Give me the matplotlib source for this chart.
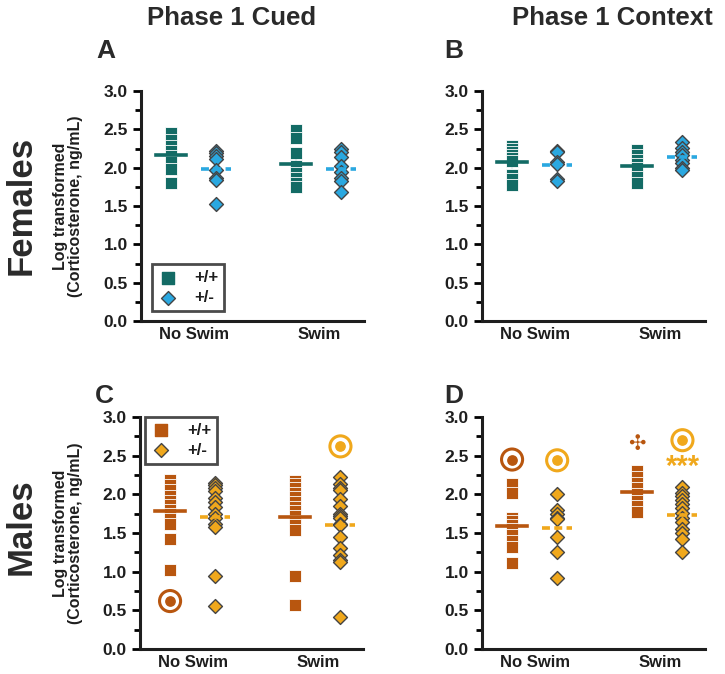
import numpy as np
import matplotlib.pyplot as plt
from matplotlib.ticker import MultipleLocator

plt.rcParams['font.family'] = ['Liberation Sans', 'DejaVu Sans']
plt.rcParams['font.weight'] = 'bold'

groups = ['No Swim', 'Swim']
genotypes = ['+/+', '+/-']

# Females, phase 1 cued (A)
fa_ns_wt = [2.45, 2.36, 2.28, 2.22, 2.15, 2.07, 1.98, 1.80]
fa_ns_het = [2.22, 2.19, 2.15, 2.11, 1.97, 1.87, 1.84, 1.52]
fa_sw_wt = [2.49, 2.39, 2.19, 2.02, 1.93, 1.86, 1.80, 1.75]
fa_sw_het = [2.24, 2.21, 2.14, 2.02, 1.94, 1.86, 1.82, 1.68]

# Females, phase 1 context (B)
fb_ns_wt = [2.28, 2.25, 2.21, 2.17, 2.13, 2.09, 1.90, 1.85, 1.78]
fb_ns_het = [2.22, 2.20, 2.07, 2.05, 1.85, 1.83]
fb_sw_wt = [2.23, 2.17, 2.10, 2.05, 2.00, 1.95, 1.88, 1.80]
fb_sw_het = [2.33, 2.26, 2.20, 2.17, 2.10, 2.06, 2.00, 1.97]

# Males, phase 1 cued (C)
mc_ns_wt = [2.18, 2.12, 2.05, 1.98, 1.92, 1.86, 1.80, 1.74, 1.68, 1.62, 1.42, 1.02]
mc_ns_het = [2.15, 2.12, 2.08, 2.04, 1.95, 1.90, 1.84, 1.75, 1.70, 1.62, 1.58, 0.95, 0.56]
mc_sw_wt = [2.17, 2.13, 2.08, 2.02, 1.96, 1.90, 1.84, 1.78, 1.72, 1.66, 1.60, 1.54, 0.95, 0.57]
mc_sw_het = [2.23, 2.14, 2.08, 2.05, 1.94, 1.85, 1.75, 1.72, 1.70, 1.62, 1.60, 1.45,
             1.30, 1.22, 1.15, 1.12, 0.42]

# Males, phase 1 context (D)
md_ns_wt = [2.13, 2.02, 1.70, 1.65, 1.60, 1.55, 1.48, 1.40, 1.32, 1.11]
md_ns_het = [2.00, 1.80, 1.75, 1.70, 1.68, 1.45, 1.25, 0.92]
md_sw_wt = [2.30, 2.22, 2.15, 2.08, 2.00, 1.92, 1.85, 1.77]
md_sw_het = [2.09, 2.02, 1.98, 1.93, 1.88, 1.82, 1.76, 1.70, 1.64, 1.55, 1.50, 1.42, 1.25]

# outliers (double circle), panel -> list of (group, genotype, value)
outliers = {
    'C': [(0, 0, 0.62), (1, 1, 2.62)],
    'D': [(0, 0, 2.45), (0, 1, 2.44), (1, 1, 2.70)],
}

teal = '#136b65'
blue = '#2aa8e0'
rust = '#b8560f'
gold = '#f0a81c'
ink = '#1e1e1e'

W, H = 725, 674
fig = plt.figure(figsize=(W / 100, H / 100), dpi=100)


def box(l, t, r, b):
    return [l / W, 1 - b / H, (r - l) / W, (b - t) / H]


axA = fig.add_axes(box(141, 91, 364, 321))
axB = fig.add_axes(box(482, 91, 705, 321))
axC = fig.add_axes(box(140, 417, 363, 649))
axD = fig.add_axes(box(482, 417, 705, 649))

off = 0.18


def draw(ax, data, cols, key=None):
    for g in range(2):
        for k in range(2):
            vals = np.array(data[g][k])
            x = g + (-off if k == 0 else off)
            if k == 0:
                ax.scatter(np.full(len(vals), x), vals, marker='s', s=72, color=cols[0],
                           edgecolor='white', linewidth=0.6, zorder=3)
            else:
                ax.scatter(np.full(len(vals), x), vals, marker='D', s=50, color=cols[1],
                           edgecolor='#444444', linewidth=1.0, zorder=3)
            m = vals.mean()
            sem = vals.std(ddof=1) / np.sqrt(len(vals))
            ls = '-' if k == 0 else (0, (2.2, 1.2))
            ax.plot([x - 0.12, x + 0.12], [m, m], color=cols[k], lw=2.6, ls=ls, zorder=4)
            ax.plot([x, x], [m - sem, m + sem], color=cols[k], lw=1.6, zorder=2)
    if key in outliers:
        for g, k, v in outliers[key]:
            x = g + (-off if k == 0 else off)
            ax.scatter([x], [v], s=230, facecolor='none', edgecolor=cols[k], linewidth=2.2, zorder=3)
            ax.scatter([x], [v], s=45, color=cols[k], zorder=3)

    ax.set_xlim(-0.42, 1.36)
    ax.set_ylim(0, 3.0)
    ax.yaxis.set_major_locator(MultipleLocator(0.5))
    ax.yaxis.set_minor_locator(MultipleLocator(0.25))
    ax.set_xticks([0, 1])
    ax.set_xticklabels(groups, fontsize=12, fontweight='bold', color=ink)
    ax.tick_params(axis='x', length=0, pad=4)
    ax.tick_params(axis='y', which='major', length=6, width=2, labelsize=12.5, labelcolor=ink)
    ax.tick_params(axis='y', which='minor', length=4, width=2)
    for t in ax.get_yticklabels():
        t.set_fontweight('bold')
    for s in ['top', 'right']:
        ax.spines[s].set_visible(False)
    for s in ['left', 'bottom']:
        ax.spines[s].set_linewidth(2.2)
        ax.spines[s].set_color(ink)


draw(axA, [[fa_ns_wt, fa_ns_het], [fa_sw_wt, fa_sw_het]], [teal, blue])
draw(axB, [[fb_ns_wt, fb_ns_het], [fb_sw_wt, fb_sw_het]], [teal, blue])
draw(axC, [[mc_ns_wt, mc_ns_het], [mc_sw_wt, mc_sw_het]], [rust, gold], 'C')
draw(axD, [[md_ns_wt, md_ns_het], [md_sw_wt, md_sw_het]], [rust, gold], 'D')

# significance marks in D
axD.text(1 - off, 2.65, '\u2723', family='DejaVu Sans', color=rust, fontsize=15,
         ha='center', va='center', zorder=5)
axD.text(1 + off, 2.36, '***', color=gold, fontsize=21, fontweight='bold',
         ha='center', va='center', zorder=5)

# legends
for ax, cols, loc, anchor in [(axA, [teal, blue], 'lower left', (0.049, 0.043)),
                              (axC, [rust, gold], 'upper left', (0.022, 1.0))]:
    h1 = ax.scatter([], [], marker='s', s=72, color=cols[0])
    h2 = ax.scatter([], [], marker='D', s=50, color=cols[1], edgecolor='#444444', linewidth=1.0)
    leg = ax.legend([h1, h2], genotypes, loc=loc, bbox_to_anchor=anchor, borderaxespad=0,
                    frameon=True, fancybox=False, handlelength=1.2, handletextpad=1.0,
                    borderpad=0.35, labelspacing=0.3,
                    prop={'weight': 'bold', 'size': 12})
    leg.get_frame().set_edgecolor(ink)
    leg.get_frame().set_linewidth(2)
    for t in leg.get_texts():
        t.set_color(ink)

# y labels
for ax in [axA, axC]:
    pos = ax.get_position()
    fig.text(68 / W, pos.y0 + pos.height / 2, 'Log transformed\n(Corticosterone, ng/mL)',
             rotation=90, ha='center', va='center', fontsize=11.5, fontweight='bold',
             multialignment='center', color=ink, linespacing=1.05)

fig.text(232 / W, 1 - 18 / H, 'Phase 1 Cued', ha='center', va='center', fontsize=18.5,
         fontweight='bold', color='#2a2a2a')
fig.text(612 / W, 1 - 18 / H, 'Phase 1 Context', ha='center', va='center', fontsize=18.5,
         fontweight='bold', color='#2a2a2a')
for lab, x, y in [('A', 106, 51), ('B', 454, 51), ('C', 104, 396), ('D', 454, 396)]:
    fig.text(x / W, 1 - y / H, lab, ha='center', va='center', fontsize=19,
             fontweight='bold', color='#2a2a2a')
fig.text(21 / W, 1 - 205 / H, 'Females', rotation=90, ha='center', va='center',
         fontsize=25, fontweight='bold', color='#2a2a2a')
fig.text(21 / W, 1 - 527 / H, 'Males', rotation=90, ha='center', va='center',
         fontsize=25, fontweight='bold', color='#2a2a2a')

fig.savefig('out.png', dpi=100)
